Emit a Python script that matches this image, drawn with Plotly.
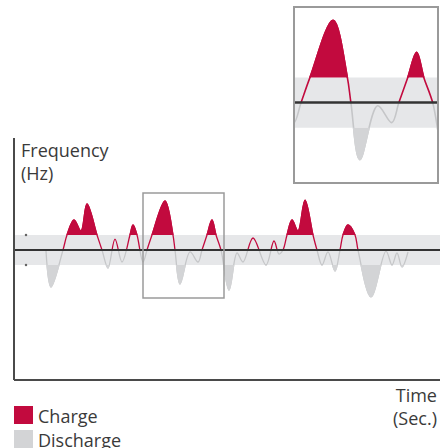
import plotly.graph_objects as go

# ---------------- data ----------------
# time (arbitrary seconds) and frequency deviation (in units of the dead-band half width)
time_s = [46, 51, 63, 67, 74, 81, 87, 97, 102, 108,
          115, 122, 130, 133, 137, 143, 147, 152, 165, 173,
          175, 180, 190, 198, 202, 207, 212, 216, 221, 229,
          237, 243, 253, 266, 274, 279, 283, 287, 292, 298,
          305, 313, 317, 322, 328, 335, 340, 343, 348, 355,
          358, 371, 386, 392, 397, 402, 408]
freq_dev = [-0.07, -2.47, 0, 1.0, 2.0, 1.27, 3.07, 1.0, 0, -1.2,
            0.73, -0.8, 1.0, 1.67, 1.0, -0.8, 0, 1.0, 3.27, 1.0,
            0, -2.27, -0.13, -0.8, 0, 1.0, 2.0, 1.0, 0, -2.67,
            -0.2, -0.8, 0.8, -1.0, 0.6, -0.27, 0, 1.0, 2.0, 1.27,
            3.33, 1.0, 0, -1.0, -0.13, -1.4, 0, 1.0, 1.67, 1.0,
            0, -3.13, -0.07, -1.0, -0.2, -1.13, -0.13]
band_half = 1.0  # dead band (+/-)

legend_labels = ["Charge", "Discharge"]
y_title = "Frequency<br>(Hz)"
x_title = "Time<br>(Sec.)"

# ranges
main_x_range = [14, 440]
main_y_range = [-8.67, 7.47]
zoom_x_range = [143, 224]
zoom_y_range = [-3.2, 3.8]

# ---------------- style ----------------
W, H = 440, 448
RED = "#c20a3e"
GREY_FILL = "#d3d4d6"
GREY_LINE = "#c5c6c8"
BAND = "#e6e7e9"
AXIS = "#4a4a4a"
TXT = "#3a3a3a"
FONT = "Open Sans"

main_dom_x = [14 / W, 1.0]
main_dom_y = [(H - 380) / H, (H - 138) / H]
zoom_dom_x = [294 / W, 438 / W]
zoom_dom_y = [(H - 183) / H, (H - 7) / H]


def sub_domain(dom, rng, a, b):
    lo, hi = rng
    d0, d1 = dom
    return [d0 + (a - lo) / (hi - lo) * (d1 - d0), d0 + (b - lo) / (hi - lo) * (d1 - d0)]


def to_paper(dom, rng, v):
    return dom[0] + (v - rng[0]) / (rng[1] - rng[0]) * (dom[1] - dom[0])


fig = go.Figure()
layout = dict(
    width=W, height=H, margin=dict(l=0, r=0, t=0, b=0, pad=0),
    paper_bgcolor="white", plot_bgcolor="rgba(0,0,0,0)", showlegend=False,
    font=dict(family=FONT, size=18, color=TXT),
)


def hidden_axis(**kw):
    d = dict(visible=False, showgrid=False, zeroline=False, fixedrange=True, showline=False)
    d.update(kw)
    return d


panels = [
    dict(xname="x", xkey="xaxis", ykeys=["yaxis", "yaxis2", "yaxis3", "yaxis4", "yaxis5"],
         ynames=["y", "y2", "y3", "y4", "y5"], xr=main_x_range, yr=main_y_range,
         dx=main_dom_x, dy=main_dom_y, lw=1.3),
    dict(xname="x2", xkey="xaxis2", ykeys=["yaxis6", "yaxis7", "yaxis8", "yaxis9", "yaxis10"],
         ynames=["y6", "y7", "y8", "y9", "y10"], xr=zoom_x_range, yr=zoom_y_range,
         dx=zoom_dom_x, dy=zoom_dom_y, lw=1.6),
]

for p in panels:
    lo, hi = p["yr"]
    layout[p["xkey"]] = hidden_axis(range=p["xr"], domain=p["dx"], anchor=p["ynames"][0])
    layout[p["ykeys"][0]] = hidden_axis(range=p["yr"], domain=p["dy"], anchor=p["xname"])
    # clipping sub-axes: red line (0..top), grey line (bottom..0), red fill (band..top), grey fill (bottom..-band)
    clips = [(0, hi), (lo, 0), (band_half, hi), (lo, -band_half)]
    for k, (a, b) in zip(p["ykeys"][1:], clips):
        layout[k] = hidden_axis(range=[a, b], domain=sub_domain(p["dy"], p["yr"], a, b),
                                anchor=p["xname"])

    common = dict(x=time_s, y=freq_dev, mode="lines", xaxis=p["xname"], hoverinfo="skip")
    fig.add_trace(go.Scatter(**common, yaxis=p["ynames"][1],
                             line=dict(color=RED, width=p["lw"], shape="spline", simplify=False)))
    fig.add_trace(go.Scatter(**common, yaxis=p["ynames"][2],
                             line=dict(color=GREY_LINE, width=p["lw"], shape="spline", simplify=False)))
    fig.add_trace(go.Scatter(**common, yaxis=p["ynames"][3], fill="tozeroy", fillcolor=RED,
                             line=dict(color=RED, width=p["lw"], shape="spline", simplify=False)))
    fig.add_trace(go.Scatter(**common, yaxis=p["ynames"][4], fill="tozeroy", fillcolor=GREY_FILL,
                             line=dict(color=GREY_FILL, width=p["lw"], shape="spline", simplify=False)))

# small markers at the dead-band limits on the main chart
fig.add_trace(go.Scatter(x=[26, 26], y=[band_half, -band_half], mode="markers", xaxis="x", yaxis="y",
                         marker=dict(size=2.5, color="#666"), hoverinfo="skip"))

shapes = []
for p, zw in zip(panels, [2.2, 2.6]):
    y0 = to_paper(p["dy"], p["yr"], -band_half)
    y1 = to_paper(p["dy"], p["yr"], band_half)
    shapes.append(dict(type="rect", xref="paper", yref="paper", x0=p["dx"][0], x1=p["dx"][1],
                       y0=y0, y1=y1, fillcolor=BAND, line=dict(width=0), layer="below"))
    yz = to_paper(p["dy"], p["yr"], 0)
    shapes.append(dict(type="line", xref="paper", yref="paper", x0=p["dx"][0], x1=p["dx"][1],
                       y0=yz, y1=yz, line=dict(color="#333333", width=zw), layer="above"))

# main axis lines (left and bottom)
shapes.append(dict(type="line", xref="paper", yref="paper", x0=main_dom_x[0], x1=main_dom_x[0],
                   y0=main_dom_y[0], y1=main_dom_y[1], line=dict(color=AXIS, width=2)))
shapes.append(dict(type="line", xref="paper", yref="paper", x0=main_dom_x[0], x1=main_dom_x[1],
                   y0=main_dom_y[0], y1=main_dom_y[0], line=dict(color=AXIS, width=2)))

# zoom box on main chart and inset border
shapes.append(dict(type="rect", xref="paper", yref="paper",
                   x0=to_paper(main_dom_x, main_x_range, zoom_x_range[0]),
                   x1=to_paper(main_dom_x, main_x_range, zoom_x_range[1]),
                   y0=to_paper(main_dom_y, main_y_range, zoom_y_range[0]),
                   y1=to_paper(main_dom_y, main_y_range, zoom_y_range[1]),
                   line=dict(color="#9a9a9a", width=1.5), fillcolor="rgba(0,0,0,0)", layer="above"))
shapes.append(dict(type="rect", xref="paper", yref="paper", x0=zoom_dom_x[0], x1=zoom_dom_x[1],
                   y0=zoom_dom_y[0], y1=zoom_dom_y[1], line=dict(color="#9a9a9a", width=2),
                   fillcolor="rgba(0,0,0,0)", layer="above"))

# legend swatches
shapes.append(dict(type="rect", xref="paper", yref="paper", x0=14 / W, x1=33 / W,
                   y0=1 - 424 / H, y1=1 - 406 / H, fillcolor=RED, line=dict(width=0)))
shapes.append(dict(type="rect", xref="paper", yref="paper", x0=14 / W, x1=33 / W,
                   y0=1 - 448 / H, y1=1 - 430 / H, fillcolor=GREY_FILL, line=dict(width=0)))

ann = []
def txt(t, x, y, anchor, align="left"):
    ann.append(dict(text=t, x=x / W, y=1 - y / H, xref="paper", yref="paper", showarrow=False,
                    xanchor=anchor, yanchor="middle", align=align,
                    font=dict(family=FONT, size=18, color=TXT)))

txt(y_title, 19, 162, "left")
txt(x_title, 439, 406, "right", "right")
txt(legend_labels[0], 36, 416, "left")
txt(legend_labels[1], 36, 440, "left")

layout["shapes"] = shapes
layout["annotations"] = ann
fig.update_layout(**layout)
fig.write_html("out.html", config={"displayModeBar": False},
               post_script="document.body.style.margin='0px';document.body.style.overflow='hidden';")
